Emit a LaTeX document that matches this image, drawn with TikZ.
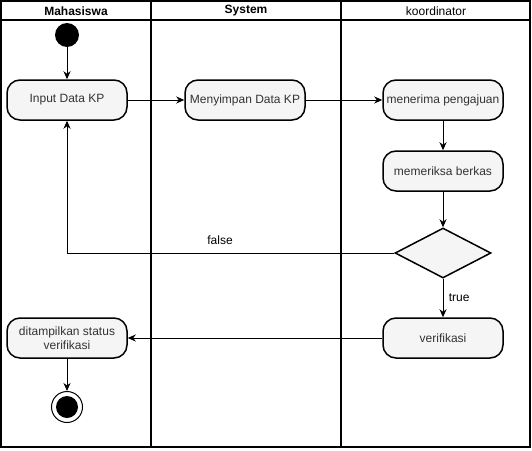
\documentclass[tikz,border=0pt]{standalone}
\usepackage{fontspec}
\setmainfont{Liberation Sans}
\usetikzlibrary{shapes.geometric,arrows.meta}
\begin{document}
\begin{tikzpicture}[x=1pt,y=-1pt,
  act/.style={draw=black,line width=1.5pt,fill=black!4,rounded corners=13pt,minimum width=120pt,minimum height=40pt,inner sep=2pt,align=center,font=\fontsize{12}{14}\selectfont,text=black!80},
  dec/.style={draw=black,line width=1.5pt,fill=black!4,diamond,minimum width=96pt,minimum height=50pt,inner sep=0pt,aspect=1.92},
  lane/.style={draw=black,line width=1.3pt},
  hdr/.style={font=\bfseries\fontsize{12}{14}\selectfont},
  flow/.style={draw=black,line width=1pt,-{Stealth[length=8pt,width=7pt,inset=2.5pt]}},
  lbl/.style={font=\fontsize{12}{14}\selectfont}]
\useasboundingbox (0,0) rectangle (532,450);
% lanes
\draw[lane] (1,1) rectangle (530,447);
\draw[lane] (1,20) -- (530,20);
\draw[lane] (151,1) -- (151,447);
\draw[lane] (341,1) -- (341,447);
\node[hdr] (h1) at (76,11) {Mahasiswa};
\node[hdr] (h2) at (246,11) {System};
\node[hdr,font=\fontsize{12}{14}\selectfont] (h3) at (436,11) {koordinator};
% nodes
\node[circle,fill=black,minimum size=24pt,inner sep=0pt] (start) at (67,35) {};
\node[act] (input) at (67,100) {Input Data KP};
\node[act] (simpan) at (245,100) {Menyimpan Data KP};
\node[act] (terima) at (443,100) {menerima pengajuan};
\node[act] (periksa) at (443,171) {memeriksa berkas};
\node[dec] (d) at (443,253) {};
\node[act] (verif) at (443,338) {verifikasi};
\node[act] (tampil) at (67,338) {ditampilkan status\\verifikasi};
\node[circle,draw=black,line width=1pt,minimum size=31pt,inner sep=0pt] (end) at (67,407) {};
\node[circle,fill=black,minimum size=22pt,inner sep=0pt] (endin) at (67,407) {};
\coordinate (fc) at (67,253);
% edges
\draw[flow] (start) -- (input);
\draw[flow] (input) -- (simpan);
\draw[flow] (simpan) -- (terima);
\draw[flow] (terima) -- (periksa);
\draw[flow] (periksa) -- (d);
\draw[flow] (d.west) -- (fc) -- (input.south);
\node[lbl] (lf) at (220,240) {false};
\draw[flow] (d.south) -- node[lbl,right,xshift=2pt] (lt) {true} (verif.north);
\draw[flow] (verif) -- (tampil);
\draw[flow] (tampil) -- (end);
\end{tikzpicture}
\end{document}
